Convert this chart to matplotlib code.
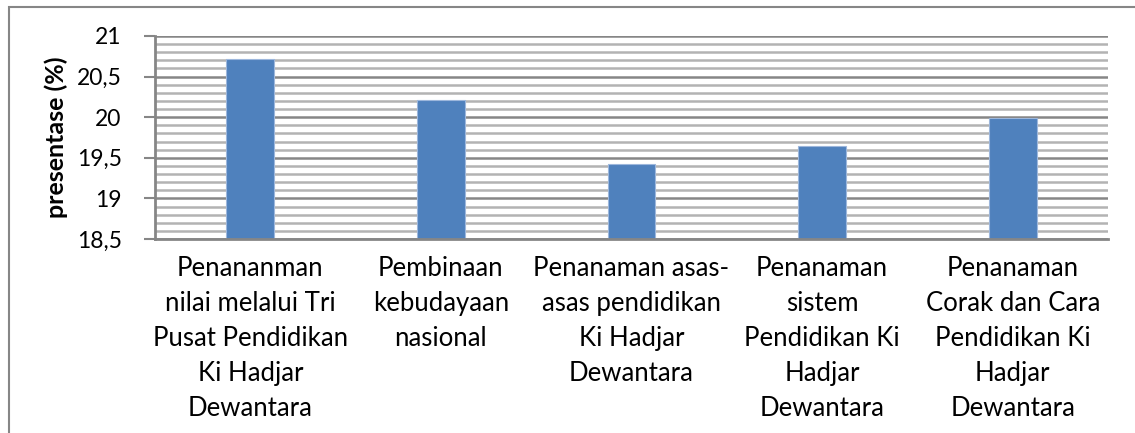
import numpy as np
import matplotlib.pyplot as plt
from matplotlib.patches import Rectangle
from matplotlib.ticker import MultipleLocator, FuncFormatter

plt.rcParams['font.family'] = ['Lato', 'DejaVu Sans']

# data
categories = [
    "Penananman\nnilai melalui Tri\nPusat Pendidikan\nKi Hadjar\nDewantara",
    "Pembinaan\nkebudayaan\nnasional",
    "Penanaman asas-\nasas pendidikan\nKi Hadjar\nDewantara",
    "Penanaman\nsistem\nPendidikan Ki\nHadjar\nDewantara",
    "Penanaman\nCorak dan Cara\nPendidikan Ki\nHadjar\nDewantara",
]
values = [20.72, 20.21, 19.42, 19.64, 19.99]

fig = plt.figure(figsize=(11.35, 4.33), dpi=100)
ax = fig.add_axes([155 / 1135, 1 - 239 / 433, 953 / 1135, 203 / 433])

# outer chart frame (cut off at right and bottom like the screenshot)
fig.patches.append(Rectangle((9 / 1135, -0.1), 1.2, 1 - 7 / 433 + 0.1,
                             transform=fig.transFigure, fill=False,
                             edgecolor='#868686', linewidth=1.5))

x = np.arange(len(categories))
ax.bar(x, values, width=0.25, color='#4F81BD', edgecolor='#9db7dc',
       linewidth=0.8, zorder=3)

ax.set_xlim(-0.5, len(categories) - 0.5)
ax.set_ylim(18.5, 21)
ax.yaxis.set_major_locator(MultipleLocator(0.5))
ax.yaxis.set_minor_locator(MultipleLocator(0.1))
ax.yaxis.set_major_formatter(FuncFormatter(lambda v, p: f"{v:g}".replace('.', ',')))

ax.grid(True, which='minor', axis='y', color='#b3b3b3', linewidth=1.8, zorder=0)
ax.grid(True, which='major', axis='y', color='#868686', linewidth=1.8, zorder=1)

ax.set_xticks(x)
ax.set_xticklabels(categories, fontsize=18.5, linespacing=1.5)
ax.tick_params(axis='x', length=0, pad=12)
ax.tick_params(axis='y', which='major', length=8, width=1.5, color='#868686',
               labelsize=16.5, pad=16)
ax.tick_params(axis='y', which='minor', length=0)

for side in ['top', 'right']:
    ax.spines[side].set_visible(False)
for side in ['left', 'bottom']:
    ax.spines[side].set_color('#868686')
    ax.spines[side].set_linewidth(2)
    ax.spines[side].set_zorder(4)

ax.set_ylabel('presentase (%)', fontsize=18, fontweight='bold')
ax.yaxis.set_label_coords(-0.091, 0.5)

fig.savefig('out.png', dpi=100)
